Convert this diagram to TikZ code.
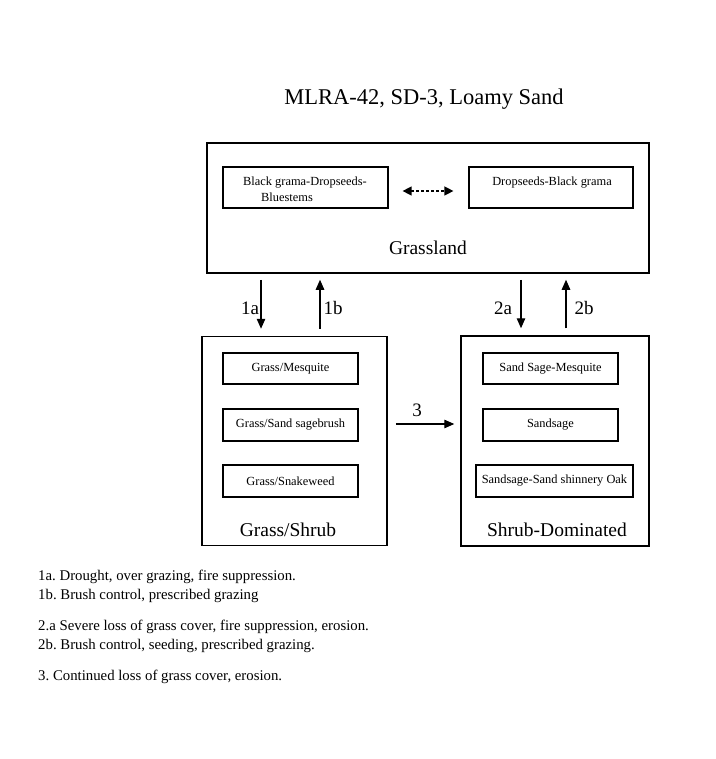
\documentclass[tikz,border=0pt]{standalone}
\usepackage{fontspec}
\setmainfont{Liberation Serif}
\usetikzlibrary{arrows.meta}
\frenchspacing
\begin{document}
\begin{tikzpicture}[x=1pt,y=-1pt,
  outerbox/.style={draw, line width=1.5pt, inner sep=0pt},
  innerbox/.style={draw, line width=1.2pt, inner sep=0pt, font=\fontsize{12.4}{16}\selectfont},
  arr/.style={line width=1.2pt, -{Triangle[length=10pt,width=8.5pt]}},
  lbl/.style={font=\fontsize{19}{22}\selectfont, inner sep=0pt},
  legend/.style={anchor=west, inner sep=0pt, font=\fontsize{14.8}{18}\selectfont},
  ttl/.style={font=\fontsize{19.5}{23}\selectfont, inner sep=0pt}]
\useasboundingbox[fill=white] (0,0) rectangle (715,759);
% title
\node[font=\fontsize{22.5}{26}\selectfont, inner sep=0pt] (title) at (424,99) {MLRA-42, SD-3, Loamy Sand};
% Grassland
\node[outerbox, minimum width=442pt, minimum height=130pt] (grass) at (428,208) {};
\node[ttl] (grasslbl) at (428,248) {Grassland};
\node[innerbox, minimum width=165pt, minimum height=41pt] (bg1) at (305.5,187.5) {};
\node[align=left, anchor=north west, inner sep=0pt, font=\fontsize{12.4}{16}\selectfont] (bg1t) at (243,177) {Black grama-Dropseeds-\\\hspace*{18pt}Bluestems};
\node[innerbox, minimum width=164pt, minimum height=41pt] (bg2) at (551,187.5) {};
\node[font=\fontsize{12.4}{16}\selectfont, inner sep=0pt] (bg2t) at (552,183) {Dropseeds-Black grama};
\draw[line width=1.3pt, dash pattern=on 3pt off 2pt, {Triangle[length=9pt,width=9pt]}-{Triangle[length=9pt,width=9pt]}] (bg1.east |- 0,191) ++(14,0) coordinate (dL) -- ([xshift=-15pt]bg2.west |- 0,191) coordinate (dR);
% Grass/Shrub
\node[outerbox, minimum width=185pt, minimum height=209pt] (gs) at (294.5,441) {};
\node[ttl] (gslbl) at (288,530) {Grass/Shrub};
\node[innerbox, minimum width=135pt, minimum height=31pt] (gs1) at (290.5,368.5) {Grass/Mesquite};
\node[innerbox, minimum width=135pt, minimum height=32pt] (gs2) at (290.5,425) {Grass/Sand sagebrush};
\node[innerbox, minimum width=135pt, minimum height=32pt] (gs3) at (290.5,481) {Grass/Snakeweed};
% Shrub-Dominated
\node[outerbox, minimum width=188pt, minimum height=210pt] (sd) at (555,441) {};
\node[ttl] (sdlbl) at (557,530) {Shrub-Dominated};
\node[innerbox, minimum width=135pt, minimum height=31pt] (sd1) at (550.5,368.5) {Sand Sage-Mesquite};
\node[innerbox, minimum width=135pt, minimum height=32pt] (sd2) at (550.5,425) {Sandsage};
\node[innerbox, minimum width=157pt, minimum height=32pt] (sd3) at (554.5,481) {Sandsage-Sand shinnery Oak};
% connectors
\coordinate (x1a) at (261,0);
\coordinate (x1b) at (320,0);
\coordinate (x2a) at (521,0);
\coordinate (x2b) at (566,0);
\draw[arr, shorten <=6pt, shorten >=7pt] (grass.south -| x1a) -- (gs.north -| x1a);
\draw[arr, shorten <=7pt, shorten >=6pt] (gs.north -| x1b) -- (grass.south -| x1b);
\draw[arr, shorten <=6pt, shorten >=7pt] (grass.south -| x2a) -- (sd.north -| x2a);
\draw[arr, shorten <=7pt, shorten >=6pt] (sd.north -| x2b) -- (grass.south -| x2b);
\coordinate (y3) at (0,424);
\draw[arr, shorten <=8pt, shorten >=6pt] (gs.east |- y3) -- (sd.west |- y3);
\node[lbl] (l1a) at (250,308) {1a};
\node[lbl] (l1b) at (333,308) {1b};
\node[lbl] (l2a) at (503,308) {2a};
\node[lbl] (l2b) at (584,308) {2b};
\node[lbl] (l3) at (417,410) {3};
% legend
\node[legend] (n1) at (38,577) {1a. Drought, over grazing, fire suppression.};
\node[legend] (n2) at (38,596) {1b. Brush control, prescribed grazing};
\node[legend] (n3) at (38,627) {2.a Severe loss of grass cover, fire suppression, erosion.};
\node[legend] (n4) at (38,646) {2b. Brush control, seeding, prescribed grazing.};
\node[legend] (n5) at (38,677) {3. Continued loss of grass cover, erosion.};
\end{tikzpicture}
\end{document}
